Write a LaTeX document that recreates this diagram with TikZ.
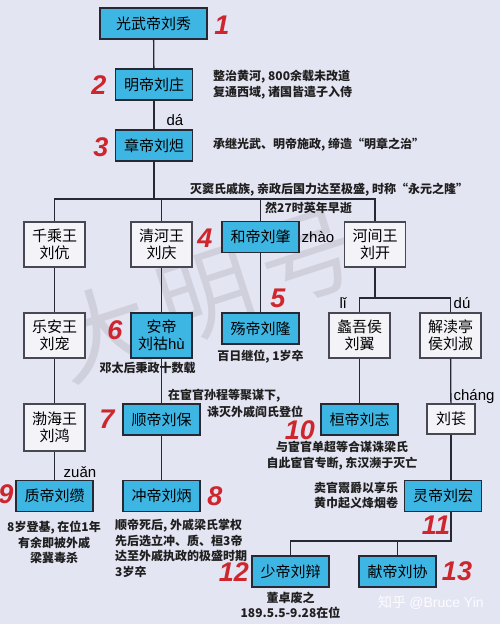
\documentclass[tikz,border=0pt]{standalone}
\usepackage{fontspec}
\setmainfont{Noto Sans CJK SC}
\newfontfamily\pyfont{Liberation Sans}
\definecolor{bgcol}{RGB}{228,229,243}
\definecolor{boxblue}{RGB}{62,182,228}
\definecolor{palebox}{RGB}{243,243,248}
\definecolor{numred}{RGB}{206,38,44}
\definecolor{linecol}{RGB}{38,40,52}
\tikzset{
  emperor/.style={draw=linecol,line width=1.3pt,fill=boxblue,minimum width=77pt,minimum height=31pt,
    inner sep=0pt,align=center,font=\fontsize{15}{17}\selectfont},
  prince/.style={draw=linecol!85,line width=1.3pt,fill=palebox,minimum width=61pt,minimum height=45pt,
    inner sep=0pt,align=center,font=\fontsize{15}{17}\selectfont},
  link/.style={draw=linecol,line width=1.3pt},
  note/.style={inner sep=0pt,text=black!88,font=\bfseries\fontsize{12}{15.6}\selectfont},
  py/.style={inner sep=0pt,font=\pyfont\fontsize{15}{15}\selectfont},
  num/.style={inner sep=0pt,text=numred,font=\pyfont\bfseries\itshape\fontsize{27}{27}\selectfont},
  wmark/.style={inner sep=0pt,text=gray,opacity=0.2,rotate=18,font=\fontsize{96}{96}\selectfont}
}
\begin{document}
\begin{tikzpicture}[x=1pt,y=-1pt]
\fill[bgcol] (0,0) rectangle (500,624);
\useasboundingbox (0,0) rectangle (500,624);
\node[wmark] (mark1) at (102,332) {大};
\node[wmark] (mark2) at (207,296) {明};
\node[wmark] (mark3) at (307,258) {号};

% emperors and princes
\node[emperor,minimum width=107pt] (guangwu) at (153.5,23.5) {光武帝刘秀};
\node[emperor] (mingdi) at (154,84.5) {明帝刘庄};
\node[emperor] (zhangdi) at (154,145.5) {章帝刘炟};
\coordinate (bar1) at (154,199);
\node[prince] (qiancheng) at (54.5,244.5) {千乘王\\刘伉};
\node[prince] (qinghe) at (161.5,244.5) {清河王\\刘庆};
\node[emperor] (hedi) at (260.5,237) {和帝刘肇};
\node[prince] (hejian) at (375,244.5) {河间王\\刘开};
\node[prince] (lean) at (54.5,335.5) {乐安王\\刘宠};
\node[emperor,minimum width=61pt,minimum height=45pt] (andi) at (161.5,335.5) {安帝\\刘祜{\pyfont hù}};
\node[emperor] (shangdi) at (260.5,328.5) {殇帝刘隆};
\coordinate (bar2) at (375,298);
\node[prince] (liyi) at (359.5,335.5) {蠡吾侯\\刘翼};
\node[prince] (liushu) at (450.5,335.5) {解渎亭\\侯刘淑};
\node[prince,minimum height=47pt] (bohai) at (54.5,427.5) {渤海王\\刘鸿};
\node[emperor] (shundi) at (161.5,419.5) {顺帝刘保};
\node[emperor] (huandi) at (359.5,419.5) {桓帝刘志};
\node[prince,minimum width=48pt,minimum height=30pt] (liuchang) at (451,419) {刘苌};
\node[emperor] (zhidi) at (54.5,496) {质帝刘缵};
\node[emperor] (chongdi) at (161.5,496) {冲帝刘炳};
\node[emperor] (lingdi) at (443,496) {灵帝刘宏};
\coordinate (bar3) at (451,541);
\node[emperor] (shaodi) at (290.5,571.5) {少帝刘辩};
\node[emperor] (xiandi) at (397.5,571.5) {献帝刘协};

% lines
\draw[link] (guangwu) -- (mingdi);
\draw[link] (mingdi) -- (zhangdi);
\draw[link] (zhangdi) -- (bar1);
\draw[link] (qiancheng.north) |- (bar1) -| (hejian.north);
\draw[link] (qinghe.north) -- (qinghe.north |- bar1);
\draw[link] (hedi.north) -- (hedi.north |- bar1);
\draw[link] (qiancheng) -- (lean);
\draw[link] (lean) -- (bohai);
\draw[link] (bohai) -- (zhidi);
\draw[link] (qinghe) -- (andi);
\draw[link] (andi) -- (shundi);
\draw[link] (shundi) -- (chongdi);
\draw[link] (hedi) -- (shangdi);
\draw[link] (hejian) -- (bar2);
\draw[link] (liyi.north) |- (bar2) -| (liushu.north);
\draw[link] (liyi) -- (huandi);
\draw[link] (liushu) -- (liuchang);
\draw[link] (liuchang) -- (lingdi.north -| liuchang);
\draw[link] (lingdi.south -| liuchang) -- (bar3) -| (shaodi.north);
\draw[link] (xiandi.north) -- (xiandi.north |- bar3);

% numbers
\node[num] (n1) at (222,25) {1};
\node[num] (n2) at (99,85) {2};
\node[num] (n3) at (101,147) {3};
\node[num] (n4) at (205,238) {4};
\node[num] (n5) at (278,298) {5};
\node[num] (n6) at (115,330) {6};
\node[num] (n7) at (107,419) {7};
\node[num] (n8) at (215,496) {8};
\node[num] (n9) at (6,494) {9};
\node[num] (n10) at (300,430) {10};
\node[num] (n11) at (436,525) {11};
\node[num] (n12) at (234,572) {12};
\node[num] (n13) at (457,571) {13};

% pinyin
\node[py] (pyda) at (175,120) {dá};
\node[py] (pyzhao) at (318,237) {zhào};
\node[py] (pyli) at (343,303) {lǐ};
\node[py] (pydu) at (462,303) {dú};
\node[py] (pychang) at (474,397) {cháng};
\node[py] (pyzuan) at (80,472) {zuǎn};

% notes
\node[note,anchor=west] (t2a) at (213,77) {整治黄河, 800余载未改道};
\node[note,anchor=west] (t2b) at (213,93) {复通西域, 诸国皆遣子入侍};
\node[note,anchor=west] (t3) at (213,145) {承继光武、明帝施政, 缔造“明章之治”};
\node[note,anchor=west] (t4a) at (190,190) {灭窦氏戚族, 亲政后国力达至极盛, 时称“永元之隆”};
\node[note,anchor=west] (t4b) at (265,208) {然27时英年早逝};
\node[note] (t6) at (147.5,368) {邓太后秉政十数载};
\node[note] (t5) at (260.5,357) {百日继位, 1岁卒};
\node[note,anchor=west] (t7a) at (168,396) {在宦官孙程等聚谋下,};
\node[note,anchor=west] (t7b) at (207,412) {诛灭外戚阎氏登位};
\node[note,align=center] (t10) at (342,455.5) {与宦官单超等合谋诛梁氏\\自此宦官专断, 东汉濒于灭亡};
\node[note,align=center] (t11) at (356,495.5) {卖官鬻爵以享乐\\黄巾起义烽烟卷};
\node[note,align=center] (t9) at (54,542.5) {8岁登基, 在位1年\\有余即被外戚\\梁冀毒杀};
\node[note,align=left,anchor=north west] (t8) at (115,519) {顺帝死后, 外戚梁氏掌权\\先后选立冲、质、桓3帝\\达至外戚执政的极盛时期\\3岁卒};
\node[note,align=center] (t12) at (290.5,605.5) {董卓废之\\189.5.5-9.28在位};
\node[anchor=west,text=white,opacity=0.9,inner sep=0pt,font=\fontsize{14}{14}\selectfont] (zhihu) at (378,603) {知乎 {\pyfont @Bruce Yin}};
\end{tikzpicture}
\end{document}
